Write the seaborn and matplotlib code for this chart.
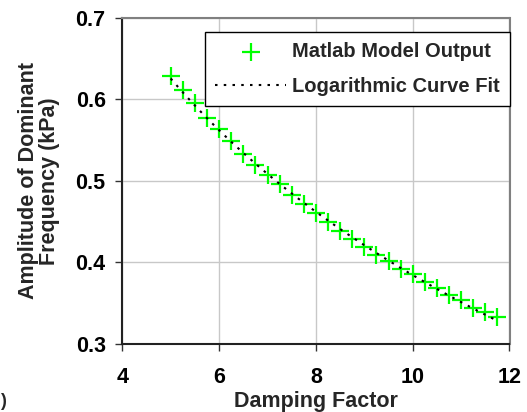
import matplotlib
matplotlib.use("Agg")
import matplotlib.pyplot as plt
import seaborn as sns
import numpy as np
import pandas as pd

# Data
damping = [5.0, 5.25, 5.5, 5.75, 6.0, 6.25, 6.5, 6.75, 7.0, 7.25, 7.5, 7.75,
           8.0, 8.25, 8.5, 8.75, 9.0, 9.25, 9.5, 9.75, 10.0, 10.25, 10.5,
           10.75, 11.0, 11.25, 11.5, 11.75]
amplitude = [0.629, 0.611, 0.595, 0.577, 0.563, 0.549, 0.533, 0.519, 0.507,
             0.496, 0.482, 0.472, 0.460, 0.449, 0.438, 0.429, 0.419, 0.409,
             0.401, 0.391, 0.385, 0.376, 0.368, 0.359, 0.353, 0.344, 0.339,
             0.332]
x_ticks = [4, 6, 8, 10, 12]
y_ticks = [0.3, 0.4, 0.5, 0.6, 0.7]
series_labels = ["Matlab Model Output", "Logarithmic Curve Fit"]

df = pd.DataFrame({"Damping Factor": damping, "Amplitude": amplitude})

sns.set_style("whitegrid")
plt.rcParams["font.family"] = ["Liberation Sans", "DejaVu Sans"]
plt.rcParams["font.weight"] = "bold"

FS = 15.5

fig = plt.figure(figsize=(5.27, 4.12), dpi=100)
ax = fig.add_axes([122.3 / 527, 1 - 343.5 / 412, (509.5 - 122.3) / 527, (343.5 - 18) / 412])

sns.scatterplot(data=df, x="Damping Factor", y="Amplitude", marker="+",
                s=180, color="#00ff00", linewidth=1.6, ax=ax, zorder=3,
                label=series_labels[0], legend=False)
sns.regplot(data=df, x="Damping Factor", y="Amplitude", logx=True,
            scatter=False, ci=None, truncate=True, ax=ax,
            line_kws=dict(color="black", ls=(0, (1.2, 3)), lw=1.5, zorder=4))

ax.set_xlim(4, 12)
ax.set_ylim(0.3, 0.7)
ax.set_xticks(x_ticks)
ax.set_yticks(y_ticks)
ax.set_yticklabels([f"{v:.1f}" for v in y_ticks])
ax.set_xticklabels([str(v) for v in x_ticks])

ax.grid(True, color="#c8c8c8", lw=1.0)
ax.set_axisbelow(True)
for side in ["left", "bottom"]:
    ax.spines[side].set_color("#222222")
    ax.spines[side].set_linewidth(1.5)
for side in ["top", "right"]:
    ax.spines[side].set_color("#808080")
    ax.spines[side].set_linewidth(1.5)

ax.tick_params(axis="both", which="major", direction="out", length=5,
               width=1, color="#333333", labelsize=FS, labelcolor="black")
ax.tick_params(axis="y", pad=7)
ax.tick_params(axis="x", pad=12)
ax.tick_params(left=True, bottom=True)
for lab in ax.get_xticklabels() + ax.get_yticklabels():
    lab.set_fontweight("bold")

ax.set_xlabel("Damping Factor", fontsize=FS, fontweight="bold", labelpad=2)
ax.set_ylabel("Amplitude of Dominant\nFrequency (kPa)", fontsize=FS,
              fontweight="bold", labelpad=11, linespacing=1.0)

marker_handle = ax.collections[0]
line_handle = ax.lines[-1]
leg = ax.legend([marker_handle, line_handle], series_labels,
                loc="upper right", bbox_to_anchor=(1.0, 0.957),
                borderaxespad=0, frameon=True, fancybox=False,
                prop=dict(family="Liberation Sans", weight="bold", size=14.5),
                handlelength=3.5, handletextpad=0.3, labelspacing=0.8,
                borderpad=0.5)
leg.get_frame().set_edgecolor("black")
leg.get_frame().set_linewidth(1.0)
leg.get_frame().set_alpha(1)

fig.text(0.5 / 527, 2 / 412, ")", ha="left", va="bottom",
         fontsize=13, fontweight="bold")

fig.savefig("out.png", dpi=100)
